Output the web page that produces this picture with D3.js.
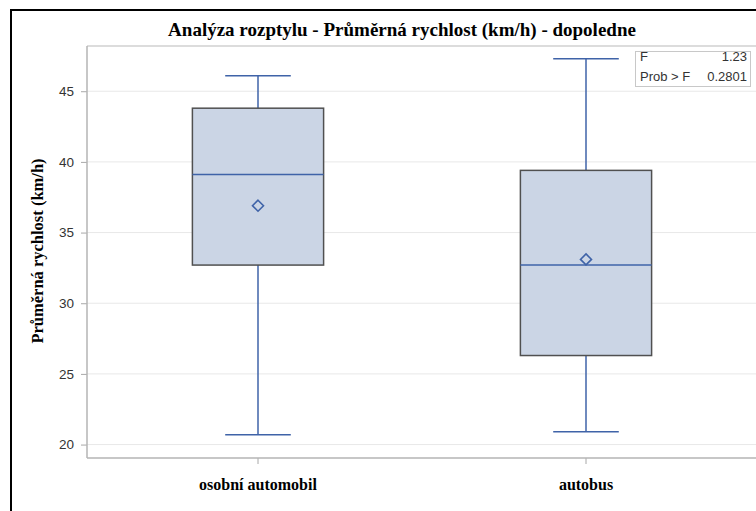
<!DOCTYPE html>
<html>
<head>
<meta charset="utf-8">
<script src="https://cdn.jsdelivr.net/npm/d3@7"></script>
<style>
  html, body { margin: 0; padding: 0; background: #fff; overflow: hidden; }
  svg { display: block; }
</style>
</head>
<body>
<svg id="chart" width="756" height="511"></svg>
<script>
// Box-plot summary per vehicle type (km/h)
const categories = ["osobní automobil", "autobus"];
const whiskerLow  = [20.7, 20.9];
const q1          = [32.7, 26.3];
const median      = [39.1, 32.7];
const q3          = [43.8, 39.4];
const whiskerHigh = [46.1, 47.3];
const mean        = [36.9, 33.1];
const yTicks = [20, 25, 30, 35, 40, 45];
const statsLabels = ["F", "Prob > F"];
const statsValues = ["1.23", "0.2801"];

const titleText = "Analýza rozptylu - Průměrná rychlost (km/h) - dopoledne";
const yTitle = "Průměrná rychlost (km/h)";

const svg = d3.select("#chart");
const serif = "Liberation Serif, Times New Roman, serif";
const sans = "Liberation Sans, Arial, sans-serif";

const plot = { left: 87, top: 46, right: 800, bottom: 458 };

const y = d3.scaleLinear().domain([19.05, 48.2]).range([plot.bottom, plot.top]);
const x = d3.scaleBand().domain(categories).range([94, 750]).paddingInner(0).paddingOuter(0);
const boxW = x.bandwidth() * 0.4;
const capW = boxW * 0.5;

// outer frame
svg.append("rect").attr("x", 11).attr("y", 10).attr("width", 900).attr("height", 700)
  .attr("fill", "none").attr("stroke", "#000").attr("stroke-width", 2);

// title
svg.append("text").attr("x", 402).attr("y", 36).attr("text-anchor", "middle")
  .attr("font-family", serif).attr("font-weight", "bold").attr("font-size", 19).attr("fill", "#000")
  .text(titleText);

// gridlines
svg.append("g").selectAll("line").data(yTicks).join("line")
  .attr("x1", plot.left).attr("x2", plot.right)
  .attr("y1", d => y(d)).attr("y2", d => y(d))
  .attr("stroke", "#e8e8e8").attr("stroke-width", 1);

// top edge of the plot frame
svg.append("line").attr("x1", plot.left).attr("x2", plot.right).attr("y1", plot.top).attr("y2", plot.top)
  .attr("stroke", "#d0d0d0").attr("stroke-width", 1.5);

// y axis
const yAxis = d3.axisLeft(y).tickValues(yTicks).tickSize(6).tickPadding(7);
const gy = svg.append("g").attr("transform", `translate(${plot.left},0)`).call(yAxis);
gy.select(".domain").remove();
gy.selectAll(".tick line").attr("stroke", "#a8a8a8").attr("stroke-width", 1);
gy.selectAll(".tick text").attr("fill", "#333").attr("font-size", 13.5).attr("font-family", sans);
svg.append("line").attr("x1", plot.left).attr("x2", plot.left).attr("y1", plot.top).attr("y2", plot.bottom)
  .attr("stroke", "#b4b4b4").attr("stroke-width", 1.5);

// x axis
const xAxis = d3.axisBottom(x).tickSize(6).tickFormat(d => d);
const gx = svg.append("g").attr("transform", `translate(0,${plot.bottom})`).call(xAxis);
gx.select(".domain").remove();
gx.selectAll(".tick line").attr("stroke", "#a8a8a8").attr("stroke-width", 1);
gx.selectAll(".tick text").attr("y", 32).attr("dy", 0)
  .attr("fill", "#000").attr("font-size", 16).attr("font-weight", "bold").attr("font-family", serif);
svg.append("line").attr("x1", plot.left).attr("x2", plot.right).attr("y1", plot.bottom).attr("y2", plot.bottom)
  .attr("stroke", "#b4b4b4").attr("stroke-width", 1.5);

// y axis title
svg.append("text")
  .attr("transform", `translate(43,${(plot.top + plot.bottom) / 2 - 1}) rotate(-90)`)
  .attr("text-anchor", "middle")
  .attr("font-family", serif).attr("font-weight", "bold").attr("font-size", 16.5).attr("fill", "#000")
  .text(yTitle);

// boxes, whiskers, medians, means
const blue = "#3f63a8";
const boxes = svg.append("g").selectAll("g").data(categories).join("g")
  .attr("transform", d => `translate(${x(d) + x.bandwidth() / 2},0)`);

boxes.append("line").attr("x1", 0).attr("x2", 0)
  .attr("y1", (d, i) => y(whiskerHigh[i])).attr("y2", (d, i) => y(q3[i]))
  .attr("stroke", blue).attr("stroke-width", 1.5);
boxes.append("line").attr("x1", 0).attr("x2", 0)
  .attr("y1", (d, i) => y(q1[i])).attr("y2", (d, i) => y(whiskerLow[i]))
  .attr("stroke", blue).attr("stroke-width", 1.5);
boxes.append("line").attr("x1", -capW / 2).attr("x2", capW / 2)
  .attr("y1", (d, i) => y(whiskerHigh[i])).attr("y2", (d, i) => y(whiskerHigh[i]))
  .attr("stroke", blue).attr("stroke-width", 1.5);
boxes.append("line").attr("x1", -capW / 2).attr("x2", capW / 2)
  .attr("y1", (d, i) => y(whiskerLow[i])).attr("y2", (d, i) => y(whiskerLow[i]))
  .attr("stroke", blue).attr("stroke-width", 1.5);

boxes.append("rect").attr("x", -boxW / 2).attr("width", boxW)
  .attr("y", (d, i) => y(q3[i])).attr("height", (d, i) => y(q1[i]) - y(q3[i]))
  .attr("fill", "#cbd5e5").attr("stroke", "#505050").attr("stroke-width", 1.5);

boxes.append("line").attr("x1", -boxW / 2).attr("x2", boxW / 2)
  .attr("y1", (d, i) => y(median[i])).attr("y2", (d, i) => y(median[i]))
  .attr("stroke", blue).attr("stroke-width", 1.5);

boxes.append("path")
  .attr("transform", (d, i) => `translate(0,${y(mean[i])})`)
  .attr("d", "M0,-5.5L5.5,0L0,5.5L-5.5,0Z")
  .attr("fill", "none").attr("stroke", blue).attr("stroke-width", 1.6);

// statistics inset
const inset = svg.append("g");
inset.append("rect").attr("x", 635.5).attr("y", 51.5).attr("width", 115).attr("height", 35)
  .attr("fill", "#fff").attr("stroke", "#c8c8c8").attr("stroke-width", 1);
inset.selectAll("text.lab").data(statsLabels).join("text").attr("class", "lab")
  .attr("x", 640).attr("y", (d, i) => 61 + i * 20)
  .attr("font-family", sans).attr("font-size", 13).attr("fill", "#333")
  .text(d => d);
inset.selectAll("text.val").data(statsValues).join("text").attr("class", "val")
  .attr("x", 747).attr("y", (d, i) => 61 + i * 20).attr("text-anchor", "end")
  .attr("font-family", sans).attr("font-size", 13).attr("fill", "#333")
  .text(d => d);
</script>
</body>
</html>
